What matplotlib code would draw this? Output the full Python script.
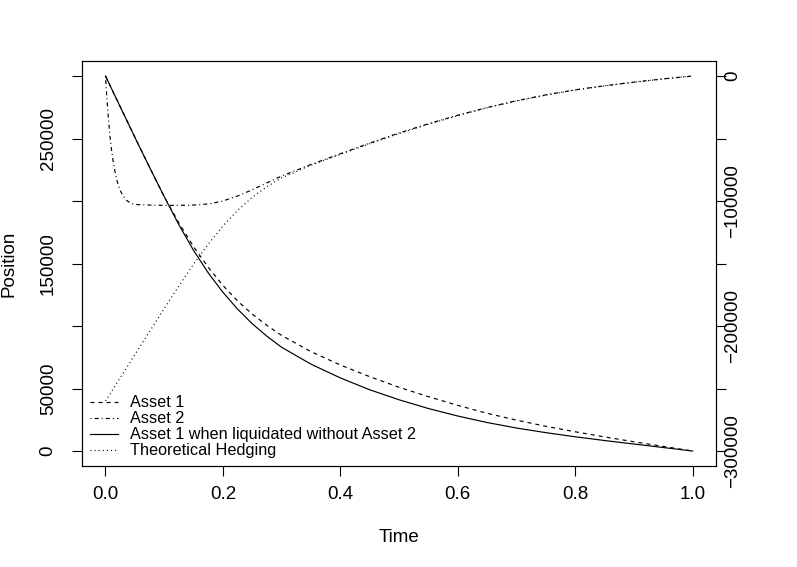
import matplotlib

matplotlib.use("Agg")
import matplotlib.pyplot as plt

# --- data ------------------------------------------------------------------
# Asset 1 (dashed) and Asset 1 liquidated alone (solid), left axis
time_a1 = [0, 0.025, 0.05, 0.075, 0.1, 0.125, 0.15, 0.175, 0.2, 0.225, 0.25,
           0.275, 0.3, 0.35, 0.4, 0.45, 0.5, 0.55, 0.6, 0.65, 0.7, 0.75, 0.8,
           0.85, 0.9, 0.95, 1.0]
asset1 = [300000, 275500, 251000, 227000, 203500, 182500, 163500, 147000,
          132500, 120000, 109500, 100500, 92500, 79500, 68800, 59500, 51000,
          43500, 36500, 30200, 24700, 19800, 15400, 11300, 7400, 3700, 0]
asset1_alone = [300000, 275500, 251000, 227000, 203500, 181000, 160500,
                142500, 127000, 113500, 101800, 91800, 83000, 69500, 58500,
                49000, 41000, 34000, 28000, 22800, 18400, 14700, 11400, 8400,
                5600, 2800, 0]

# Asset 2 (dash-dot), right axis
time_a2 = [0, 0.0015, 0.003, 0.005, 0.0075, 0.01, 0.013, 0.016, 0.02, 0.025,
           0.03, 0.036, 0.043, 0.05, 0.06, 0.08, 0.1, 0.12, 0.14, 0.16, 0.18,
           0.2, 0.225, 0.25, 0.275, 0.3, 0.35, 0.4, 0.45, 0.5, 0.55, 0.6,
           0.65, 0.7, 0.75, 0.8, 0.85, 0.9, 0.95, 1.0]
asset2 = [0, -11500, -21900, -34000, -47500, -58000, -68000, -76000, -84500,
          -91500, -96000, -99500, -101800, -102700, -103000, -103300, -103500,
          -103500, -103400, -103000, -102000, -100000, -96000, -91000,
          -85500, -80000, -70800, -62200, -53700, -45600, -38200, -31400,
          -25200, -19800, -15100, -11100, -7800, -4900, -2300, 0]

# Theoretical hedging (dotted), right axis
time_h = [0, 0.025, 0.05, 0.075, 0.1, 0.125, 0.15, 0.175, 0.2, 0.225, 0.25,
          0.275, 0.3, 0.35, 0.4, 0.45, 0.5, 0.55, 0.6, 0.65, 0.7, 0.75, 0.8,
          0.85, 0.9, 0.95, 1.0]
hedge = [-260000, -241500, -223000, -204500, -186000, -168000, -150500,
         -134500, -120000, -107500, -97000, -88500, -81500, -71300, -62700,
         -54200, -46000, -38600, -31700, -25400, -20000, -15300, -11200,
         -7900, -5000, -2300, 0]

left_ticks = [0, 50000, 100000, 150000, 200000, 250000, 300000]
left_labels = ["0", "50000", "", "150000", "", "250000", ""]
right_ticks = [0, -50000, -100000, -150000, -200000, -250000, -300000]
right_labels = ["0", "", "\u2212100000", "", "\u2212200000", "", "\u2212300000"]
x_ticks = [0.0, 0.2, 0.4, 0.6, 0.8, 1.0]

# --- style -----------------------------------------------------------------
plt.rcParams.update({
    "font.family": ["Liberation Sans", "DejaVu Sans"],
    "font.size": 13.5,
    "lines.scale_dashes": False,
    "axes.linewidth": 0.8,
})
TICK = dict(direction="out", length=7.2, width=0.8, labelsize=13.5)
LW = 0.85
DASHED = (0, (2.9, 2.9))
DOTDASH = (0, (0.75, 2.2, 2.9, 2.2))
DOTTED = (0, (0.75, 2.2))

fig = plt.figure(figsize=(7.97, 5.67), dpi=100)
ax = fig.add_axes([0.1029, 0.1781, 0.7955, 0.7143])
ax2 = ax.twinx()

l1, = ax.plot(time_a1, asset1, color="black", lw=LW, linestyle=DASHED,
              label="Asset 1")
l3, = ax.plot(time_a1, asset1_alone, color="black", lw=LW, linestyle="-",
              label="Asset 1 when liquidated without Asset 2")
l2, = ax2.plot(time_a2, asset2, color="black", lw=LW, linestyle=DOTDASH,
               label="Asset 2")
l4, = ax2.plot(time_h, hedge, color="black", lw=LW, linestyle=DOTTED,
               label="Theoretical Hedging")

ax.set_xlim(-0.04, 1.04)
ax.set_ylim(-12000, 312000)
ax2.set_ylim(-312000, 12000)

ax.set_xticks(x_ticks, [f"{v:.1f}" for v in x_ticks])
ax.set_yticks(left_ticks, left_labels)
ax2.set_yticks(right_ticks, right_labels)

ax.tick_params(axis="x", pad=7, **TICK)
ax.tick_params(axis="y", pad=11, labelrotation=90, **TICK)
ax2.tick_params(axis="y", pad=-1.5, labelrotation=90, **TICK)
for lab in ax.get_yticklabels():
    lab.set_va("center")
for lab in ax2.get_yticklabels():
    lab.set_va("center")
    lab.set_ha("left")

ax.set_xlabel("Time", fontsize=13.5)
ax.set_ylabel("Position", fontsize=13.5)
ax.xaxis.set_label_coords(0.5, -0.155)
ax.yaxis.set_label_coords(-0.102, 0.5)

ax2.legend(handles=[l1, l2, l3, l4], loc="lower left",
           bbox_to_anchor=(0.0126, 0.019), frameon=False, fontsize=11.7,
           borderpad=0, borderaxespad=0, handlelength=1.74,
           handletextpad=0.72, labelspacing=0.06)

fig.savefig("out.png", dpi=100)
